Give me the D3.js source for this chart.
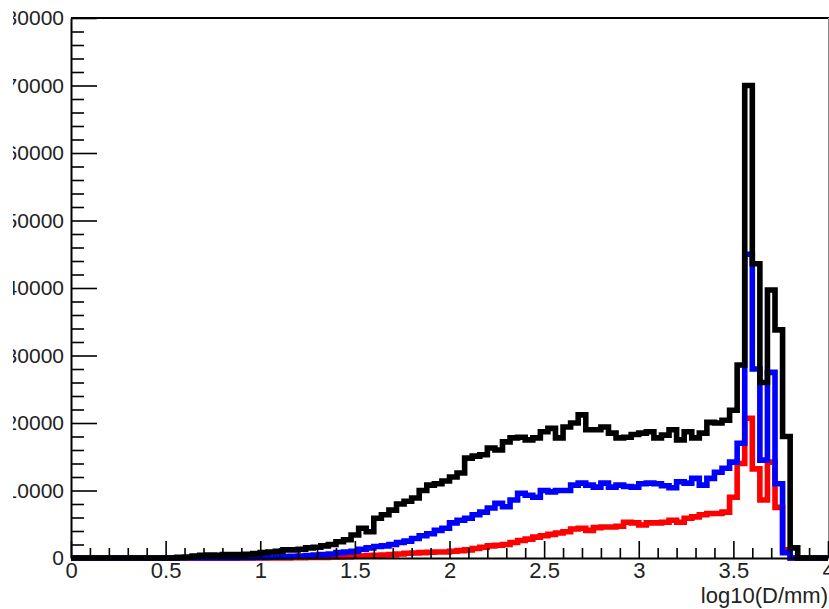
<!DOCTYPE html>
<html>
<head>
<meta charset="utf-8">
<script src="https://cdn.jsdelivr.net/npm/d3@7/dist/d3.min.js"></script>
<style>
  html, body { margin: 0; padding: 0; background: #ffffff; }
  svg { display: block; }
</style>
</head>
<body>
<div id="chart"></div>
<script>
const WIDTH = 829;
const HEIGHT = 609;
const MARGIN = { top: 18, right: 1, bottom: 51, left: 71 };
const FONT = '"Liberation Sans", Arial, Helvetica, sans-serif';

// histogram binning: 100 bins of 0.04 over log10(D/mm) in [0, 4]
const X_DOMAIN = [0, 4];
const BIN_COUNT = 100;
const Y_DOMAIN = [0, 80000];

const X_TICKS = [0, 0.5, 1, 1.5, 2, 2.5, 3, 3.5, 4];
const Y_TICKS = [0, 10000, 20000, 30000, 40000, 50000, 60000, 70000, 80000];
const X_TITLE = "log10(D/mm)";

// bin contents
const blackCounts = [
  0, 0, 0, 0, 0, 0, 0, 0, 0, 0,
  0, 0, 0, 0, 100, 150, 300, 400, 450, 400,
  500, 500, 500, 550, 650, 800, 900, 1000, 1200, 1200,
  1300, 1500, 1600, 1800, 2000, 2400, 2700, 3400, 4400, 3900,
  5900, 6400, 7100, 8000, 8400, 8900, 10000, 10800, 11000, 11400,
  12000, 12600, 14800, 15100, 15300, 16300, 16000, 17200, 17800, 17900,
  17500, 17800, 18700, 19200, 17800, 19400, 20000, 21200, 19000, 19000,
  19400, 18500, 17800, 17900, 18300, 18500, 18700, 17800, 18200, 19000,
  17500, 18700, 17800, 18500, 20100, 20000, 20400, 21900, 28600, 70000,
  43600, 26000, 39700, 33800, 18000, 1500, 0, 0, 0, 0,
];

const blueCounts = [
  0, 0, 0, 0, 0, 0, 0, 0, 0, 0,
  0, 0, 0, 0, 0, 0, 0, 0, 0, 0,
  0, 0, 50, 50, 80, 100, 120, 150, 200, 250,
  300, 350, 450, 500, 600, 800, 900, 1000, 1300, 1500,
  1700, 1800, 2000, 2300, 2500, 2900, 3300, 3600, 4100, 4400,
  5200, 5600, 5900, 6400, 6800, 7400, 8100, 7600, 8600, 9600,
  9300, 9000, 10000, 9800, 10000, 10000, 10800, 11100, 10800, 10500,
  11100, 10500, 10800, 10600, 10500, 11000, 11100, 11000, 10700, 10400,
  11300, 11100, 11800, 10800, 11800, 12700, 13300, 14200, 17000, 45000,
  28000, 14500, 27500, 11000, 800, 0, 0, 0, 0, 0,
];

const redCounts = [
  0, 0, 0, 0, 0, 0, 0, 0, 0, 0,
  0, 0, 0, 0, 0, 0, 0, 0, 0, 0,
  0, 0, 0, 0, 0, 0, 0, 0, 0, 30,
  50, 80, 100, 100, 150, 150, 200, 250, 300, 350,
  400, 450, 500, 600, 700, 750, 800, 850, 900, 900,
  1000, 1100, 1200, 1400, 1600, 1800, 1900, 2000, 2300, 2600,
  2800, 3100, 3300, 3500, 3700, 3900, 4300, 4400, 4100, 4500,
  4600, 4600, 4700, 5300, 5200, 4900, 5200, 5200, 5300, 5600,
  5300, 5900, 6100, 6400, 6600, 6600, 6800, 9000, 14000, 20700,
  13200, 8600, 14200, 7500, 1200, 0, 0, 0, 0, 0,
];

// drawn in this order, black ends up on top
const SERIES = [
  { name: "red", color: "#ff0000", counts: redCounts },
  { name: "blue", color: "#0000ff", counts: blueCounts },
  { name: "black", color: "#000000", counts: blackCounts },
];

const svg = d3
  .select("#chart")
  .append("svg")
  .attr("width", WIDTH)
  .attr("height", HEIGHT)
  .attr("viewBox", `0 0 ${WIDTH} ${HEIGHT}`);

svg.append("rect").attr("width", WIDTH).attr("height", HEIGHT).attr("fill", "#ffffff");

const x = d3
  .scaleLinear()
  .domain(X_DOMAIN)
  .range([MARGIN.left, WIDTH - MARGIN.right]);
const y = d3
  .scaleLinear()
  .domain(Y_DOMAIN)
  .range([HEIGHT - MARGIN.bottom, MARGIN.top]);

const binWidth = (X_DOMAIN[1] - X_DOMAIN[0]) / BIN_COUNT;
const binEdge = (i) => X_DOMAIN[0] + i * binWidth;

// frame: top and right edges
svg
  .append("line")
  .attr("x1", x(X_DOMAIN[0]))
  .attr("x2", x(X_DOMAIN[1]) + 1)
  .attr("y1", y(Y_DOMAIN[1]))
  .attr("y2", y(Y_DOMAIN[1]))
  .attr("stroke", "#000")
  .attr("stroke-width", 2);
svg
  .append("line")
  .attr("x1", x(X_DOMAIN[1]) + 0.5)
  .attr("x2", x(X_DOMAIN[1]) + 0.5)
  .attr("y1", y(Y_DOMAIN[1]))
  .attr("y2", y(Y_DOMAIN[0]))
  .attr("stroke", "#888")
  .attr("stroke-width", 1);

// step histograms
const stepLine = d3
  .line()
  .x((d) => x(d[0]))
  .y((d) => y(d[1]))
  .curve(d3.curveStepAfter);

svg
  .append("g")
  .attr("class", "histos")
  .selectAll("path")
  .data(SERIES)
  .join("path")
  .attr("fill", "none")
  .attr("stroke", (d) => d.color)
  .attr("stroke-width", 5.6)
  .attr("stroke-linejoin", "miter")
  .attr("d", (d) => {
    const pts = d.counts.map((v, i) => [binEdge(i), v]);
    pts.push([binEdge(BIN_COUNT), d.counts[BIN_COUNT - 1]]);
    return stepLine(pts);
  });

// axes
const minorX = x.ticks(40).filter((t) => !X_TICKS.some((m) => Math.abs(m - t) < 1e-9));
const minorY = y.ticks(40).filter((t) => !Y_TICKS.includes(t));

const xAxisY = y(Y_DOMAIN[0]);

svg
  .append("g")
  .attr("class", "x-minor")
  .attr("transform", `translate(0,${xAxisY})`)
  .call(d3.axisBottom(x).tickValues(minorX).tickSizeInner(-10).tickSizeOuter(0).tickFormat(""))
  .call((g) => g.select(".domain").remove())
  .call((g) => g.selectAll(".tick line").attr("stroke-width", 1.6));

svg
  .append("g")
  .attr("class", "x-axis")
  .attr("transform", `translate(0,${xAxisY})`)
  .call(
    d3
      .axisBottom(x)
      .tickValues(X_TICKS)
      .tickSizeInner(-17)
      .tickSizeOuter(0)
      .tickPadding(4)
      .tickFormat((d) => String(d))
  )
  .call((g) => g.select(".domain").attr("stroke-width", 2))
  .call((g) => g.selectAll(".tick line").attr("stroke-width", 1.6))
  .call((g) =>
    g.selectAll(".tick text").attr("font-family", FONT).attr("font-size", 22).attr("fill", "#222")
  );

// y labels are cut at the left edge of the picture
svg
  .append("clipPath")
  .attr("id", "y-clip")
  .append("rect")
  .attr("x", 13)
  .attr("y", 0)
  .attr("width", WIDTH)
  .attr("height", HEIGHT);

const yWrap = svg.append("g").attr("clip-path", "url(#y-clip)");

yWrap
  .append("g")
  .attr("class", "y-minor")
  .attr("transform", `translate(${MARGIN.left},0)`)
  .call(d3.axisLeft(y).tickValues(minorY).tickSizeInner(-13).tickSizeOuter(0).tickFormat(""))
  .call((g) => g.select(".domain").remove())
  .call((g) => g.selectAll(".tick line").attr("stroke-width", 1.6));

yWrap
  .append("g")
  .attr("class", "y-axis")
  .attr("transform", `translate(${MARGIN.left},0)`)
  .call(
    d3
      .axisLeft(y)
      .tickValues(Y_TICKS)
      .tickSizeInner(-26)
      .tickSizeOuter(0)
      .tickPadding(7)
      .tickFormat((d) => String(d))
  )
  .call((g) => g.select(".domain").attr("stroke-width", 2))
  .call((g) => g.selectAll(".tick line").attr("stroke-width", 1.6))
  .call((g) =>
    g.selectAll(".tick text").attr("font-family", FONT).attr("font-size", 21).attr("fill", "#222")
  );

svg
  .append("text")
  .attr("class", "x-title")
  .attr("x", x(X_DOMAIN[1]))
  .attr("y", HEIGHT - 6)
  .attr("text-anchor", "end")
  .attr("font-family", FONT)
  .attr("font-size", 22)
  .attr("fill", "#222")
  .text(X_TITLE);
</script>
</body>
</html>
